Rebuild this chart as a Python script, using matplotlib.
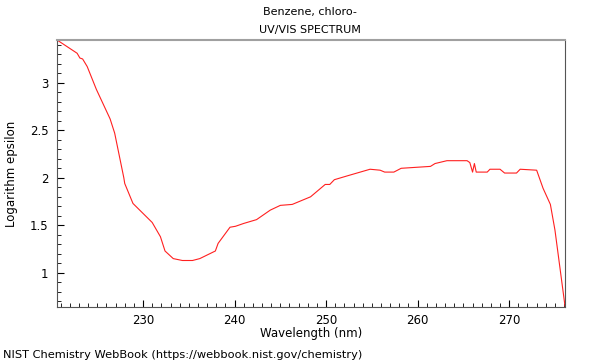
import matplotlib
matplotlib.use("Agg")
import matplotlib.pyplot as plt
from matplotlib.ticker import MultipleLocator

# spectrum (wavelength nm, log epsilon)
wavelength = [220.6, 222.8, 223.1, 223.4, 223.9, 224.9, 226.4, 226.9, 227.9, 228.0,
              228.9, 231.0, 231.9, 232.4, 233.3, 234.3, 235.4, 236.2, 237.9, 238.2,
              239.5, 240.1, 241.0, 242.4, 243.9, 245.0, 246.3, 248.3, 249.9, 250.4,
              250.9, 252.3, 254.8, 255.9, 256.4, 257.4, 258.2, 261.4, 261.9, 263.2,
              265.4, 265.7, 266.0, 266.2, 266.4, 267.6, 267.9, 269.0, 269.5, 270.8,
              271.2, 273.0, 273.7, 274.5, 275.0, 276.1]
log_eps = [3.45, 3.31, 3.26, 3.25, 3.17, 2.93, 2.62, 2.47, 2.00, 1.94,
           1.73, 1.53, 1.38, 1.23, 1.15, 1.13, 1.13, 1.15, 1.23, 1.31,
           1.48, 1.49, 1.52, 1.56, 1.66, 1.71, 1.72, 1.80, 1.93, 1.93,
           1.98, 2.02, 2.09, 2.08, 2.06, 2.06, 2.10, 2.12, 2.15, 2.18,
           2.18, 2.16, 2.06, 2.15, 2.06, 2.06, 2.09, 2.09, 2.05, 2.05,
           2.09, 2.08, 1.89, 1.72, 1.45, 0.65]

fig = plt.figure(figsize=(6, 3.6), dpi=100)
ax = fig.add_axes([0.095, 0.147, 0.8467, 0.742])

ax.plot(wavelength, log_eps, color="#ff2020", linewidth=0.8)

ax.set_xlim(220.6, 276.1)
ax.set_ylim(0.64, 3.45)
ax.xaxis.set_major_locator(MultipleLocator(10))
ax.xaxis.set_minor_locator(MultipleLocator(1))
ax.yaxis.set_major_locator(MultipleLocator(0.5))
ax.yaxis.set_minor_locator(MultipleLocator(0.1))
ax.tick_params(which="both", direction="in", top=False, right=False, labelsize=8.5)
ax.tick_params(axis="x", pad=5)
ax.tick_params(axis="y", pad=6)
ax.tick_params(which="major", length=5)
ax.tick_params(which="minor", length=3)
ax.set_yticks([1, 1.5, 2, 2.5, 3])
ax.set_yticklabels(["1", "1.5", "2", "2.5", "3"])

ax.spines["top"].set_color("#a0a0a0")
ax.spines["top"].set_linewidth(1.5)
ax.spines["right"].set_color("#555555")
ax.spines["left"].set_color("#555555")
ax.spines["bottom"].set_color("#555555")

ax.set_xlabel("Wavelength (nm)", fontsize=8.5, labelpad=0)
ax.set_ylabel("Logarithm epsilon", fontsize=8.5, labelpad=9)

fig.text(0.517, 1 - 12 / 360, "Benzene, chloro-", fontsize=8, ha="center", va="center")
fig.text(0.517, 1 - 30 / 360, "UV/VIS SPECTRUM", fontsize=8, ha="center", va="center")

fig.text(0.005, 0.006, "NIST Chemistry WebBook (https://webbook.nist.gov/chemistry)", fontsize=8.2)

fig.savefig("out.png", dpi=100)
